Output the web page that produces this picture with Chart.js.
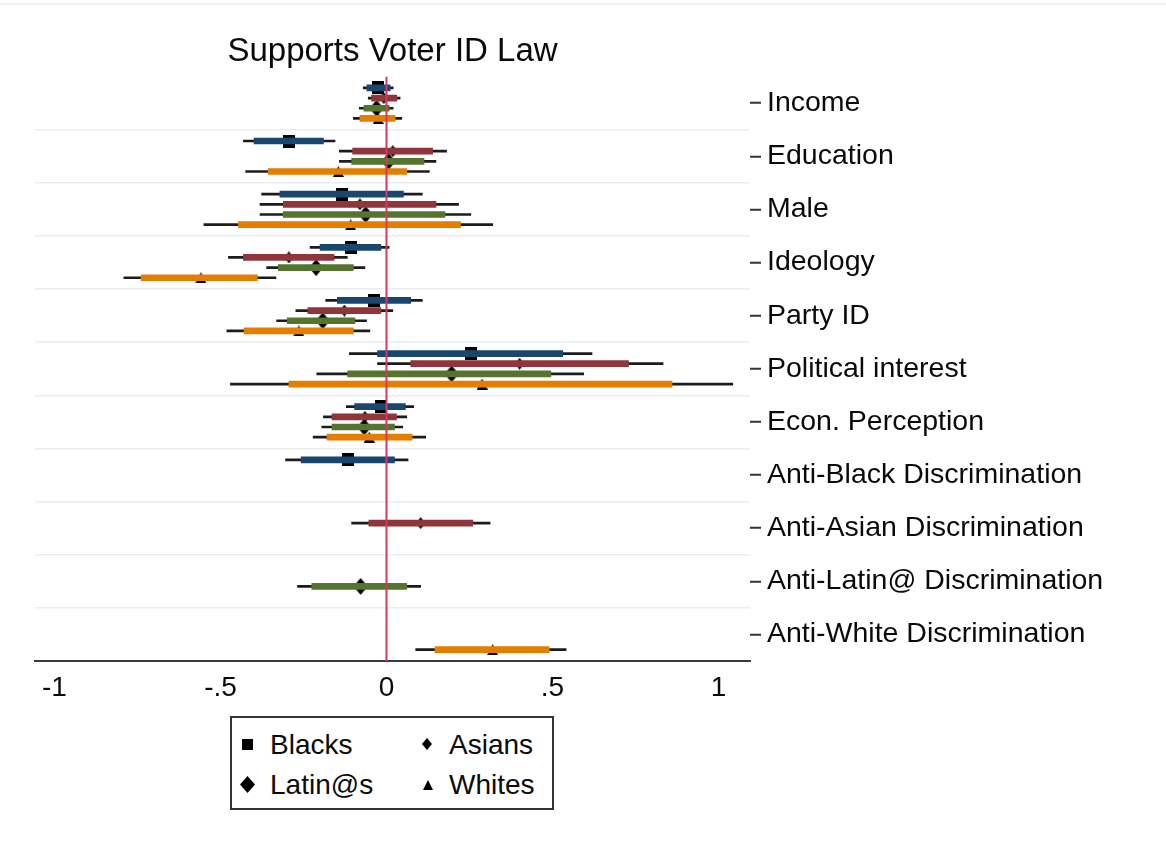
<!DOCTYPE html>
<html>
<head>
<meta charset="utf-8">
<title>Supports Voter ID Law</title>
<script src="https://cdn.jsdelivr.net/npm/chart.js@4/dist/chart.umd.min.js"></script>
<style>
  html, body { margin: 0; padding: 0; background: #fff; }
  #wrap { position: relative; width: 1166px; height: 847px; overflow: hidden;
          font-family: 'Liberation Sans', Arial, sans-serif; }
  #chart { display: block; position: absolute; left: 0; top: 0; }
  #topline { position: absolute; left: 0; top: 3px; width: 1166px; height: 2px; background: #edf1f4; }
  #legend { position: absolute; left: 230px; top: 716px; width: 320px; height: 90px;
            border: 2px solid #333; background: #fff; }
  #legend .txt { position: absolute; font-size: 28px; line-height: 32px; color: #0a0a0a; white-space: nowrap; }
  #legend .mk { position: absolute; background: #000; }
  .sq { width: 11px; height: 11px; }
  .dm { clip-path: polygon(50% 0, 100% 50%, 50% 100%, 0 50%); }
  .tr { clip-path: polygon(50% 0, 100% 100%, 0 100%); }
</style>
</head>
<body>
<div id="wrap">
  <div id="topline"></div>
  <canvas id="chart" width="1166" height="847"></canvas>
  <div id="legend">
    <div class="mk sq" style="left:10px;top:21px;"></div>
    <div class="txt" style="left:38px;top:11px;">Blacks</div>
    <div class="mk dm" style="left:190px;top:20px;width:10px;height:12px;"></div>
    <div class="txt" style="left:217px;top:11px;">Asians</div>
    <div class="mk dm" style="left:8px;top:58px;width:15px;height:17px;"></div>
    <div class="txt" style="left:38px;top:51px;">Latin@s</div>
    <div class="mk tr" style="left:191px;top:62px;width:10px;height:10px;"></div>
    <div class="txt" style="left:217px;top:51px;">Whites</div>
  </div>
</div>
<script>
// Coefficients (point estimates) with inner (thick) and outer (thin) confidence intervals
const categories = ['Income', 'Education', 'Male', 'Ideology', 'Party ID', 'Political interest',
  'Econ. Perception', 'Anti-Black Discrimination', 'Anti-Asian Discrimination',
  'Anti-Latin@ Discrimination', 'Anti-White Discrimination'];
const groupNames = ['Blacks', 'Asians', 'Latin@s', 'Whites'];
const xTicks = [-1, -0.5, 0, 0.5, 1];
const refValue = 0;

const blacksCoef = [-0.025, -0.293, -0.135, -0.108, -0.037, 0.256, -0.018, -0.115, null, null, null];
const blacksCI90 = [[-0.059, 0.011], [-0.399, -0.19], [-0.321, 0.051], [-0.2, -0.017], [-0.148, 0.073],
  [-0.027, 0.531], [-0.096, 0.057], [-0.257, 0.024], null, null, null];
const blacksCI95 = [[-0.07, 0.02], [-0.431, -0.155], [-0.376, 0.108], [-0.23, 0.008], [-0.183, 0.108],
  [-0.112, 0.619], [-0.121, 0.082], [-0.304, 0.065], null, null, null];

const asiansCoef = [-0.008, 0.019, -0.08, -0.294, -0.127, 0.401, -0.065, null, 0.103, null, null];
const asiansCI90 = [[-0.045, 0.031], [-0.102, 0.139], [-0.311, 0.149], [-0.431, -0.158], [-0.237, -0.017],
  [0.073, 0.729], [-0.164, 0.03], null, [-0.053, 0.26], null, null];
const asiansCI95 = [[-0.055, 0.041], [-0.142, 0.181], [-0.381, 0.217], [-0.476, -0.118], [-0.273, 0.019],
  [-0.027, 0.833], [-0.19, 0.061], null, [-0.105, 0.312], null, null];

const latinosCoef = [-0.03, 0.006, -0.063, -0.212, -0.192, 0.196, -0.067, null, null, -0.078, null];
const latinosCI90 = [[-0.068, 0.008], [-0.105, 0.113], [-0.311, 0.176], [-0.326, -0.1], [-0.299, -0.095],
  [-0.117, 0.495], [-0.164, 0.024], null, null, [-0.225, 0.061], null];
const latinosCI95 = [[-0.082, 0.02], [-0.142, 0.149], [-0.381, 0.254], [-0.361, -0.065], [-0.331, -0.06],
  [-0.21, 0.594], [-0.195, 0.049], null, null, [-0.268, 0.103], null];

const whitesCoef = [-0.025, -0.145, -0.108, -0.559, -0.264, 0.288, -0.052, null, null, null, 0.32];
const whitesCI90 = [[-0.08, 0.026], [-0.356, 0.061], [-0.446, 0.223], [-0.739, -0.389], [-0.429, -0.1],
  [-0.294, 0.86], [-0.179, 0.077], null, null, null, [0.146, 0.49]];
const whitesCI95 = [[-0.1, 0.046], [-0.424, 0.129], [-0.55, 0.32], [-0.791, -0.333], [-0.481, -0.05],
  [-0.47, 1.043], [-0.221, 0.118], null, null, null, [0.088, 0.541]];

// Marker glyphs drawn once into small canvases
function makeMarker(shape, w, h) {
  const c = document.createElement('canvas');
  c.width = w; c.height = h;
  const g = c.getContext('2d');
  g.fillStyle = '#000';
  g.beginPath();
  if (shape === 'square') {
    g.rect(0, 0, w, h);
  } else if (shape === 'diamond') {
    g.moveTo(w / 2, 0); g.lineTo(w, h / 2); g.lineTo(w / 2, h); g.lineTo(0, h / 2); g.closePath();
  } else {
    g.moveTo(w / 2, 0); g.lineTo(w, h); g.lineTo(0, h); g.closePath();
  }
  g.fill();
  return c;
}

const series = [
  { name: groupNames[0], coef: blacksCoef, inner: blacksCI90, outer: blacksCI95, color: '#1a476f', marker: makeMarker('square', 12, 13) },
  { name: groupNames[1], coef: asiansCoef, inner: asiansCI90, outer: asiansCI95, color: '#90353b', marker: makeMarker('diamond', 9, 12) },
  { name: groupNames[2], coef: latinosCoef, inner: latinosCI90, outer: latinosCI95, color: '#55752f', marker: makeMarker('diamond', 14, 17) },
  { name: groupNames[3], coef: whitesCoef, inner: whitesCI90, outer: whitesCI95, color: '#e37e00', marker: makeMarker('triangle', 11, 11) }
];
// vertical slot of each group inside a category band
const slotOffset = [-0.287, -0.096, 0.096, 0.287];

const datasets = [];
series.forEach((s, g) => {
  const pos = i => i + slotOffset[g];
  datasets.push({
    type: 'bar', label: s.name + ' outer', indexAxis: 'y', grouped: false,
    data: s.outer.map((r, i) => r ? { y: pos(i), x: r } : null).filter(Boolean),
    backgroundColor: '#1c1c1c', borderWidth: 0, barThickness: 2, order: 3
  });
  datasets.push({
    type: 'scatter', label: s.name,
    data: s.coef.map((c, i) => c === null ? null : { x: c, y: pos(i) }).filter(Boolean),
    pointStyle: s.marker, pointRadius: 6, order: 2
  });
  datasets.push({
    type: 'bar', label: s.name + ' inner', indexAxis: 'y', grouped: false,
    data: s.inner.map((r, i) => r ? { y: pos(i), x: r } : null).filter(Boolean),
    backgroundColor: s.color, borderWidth: 0, barThickness: 6, order: 1
  });
});
datasets.push({
  type: 'line', label: 'zero',
  data: [{ x: refValue, y: -0.5 }, { x: refValue, y: categories.length - 0.5 }],
  borderColor: '#d6385f', borderWidth: 2, pointRadius: 0, order: 0
});

const FONT = "'Liberation Sans', Arial, sans-serif";
const fmtX = v => v === 0 ? '0' : (v < 0 ? '-' : '') + String(Math.abs(v)).replace(/^0/, '');
const isInt = v => Math.abs(v - Math.round(v)) < 1e-9;

new Chart(document.getElementById('chart'), {
  type: 'scatter',
  data: { datasets },
  options: {
    responsive: false,
    devicePixelRatio: 1,
    animation: false,
    layout: { padding: { left: 35, right: 0, top: 0, bottom: 142 } },
    plugins: {
      legend: { display: false },
      tooltip: { enabled: false },
      title: {
        display: true, text: 'Supports Voter ID Law', fullSize: false,
        font: { family: FONT, size: 33, weight: 'normal' }, color: '#0a0a0a',
        padding: { top: 32, bottom: 5 }
      }
    },
    scales: {
      x: {
        type: 'linear', position: 'bottom', offset: false,
        min: -1.0587, max: 1.0949,
        afterBuildTicks: s => { s.ticks = xTicks.map(v => ({ value: v })); },
        afterFit: s => { s.height = 44; },
        ticks: { font: { family: FONT, size: 28 }, color: '#0a0a0a', padding: 10,
                 autoSkip: false, maxRotation: 0, callback: v => fmtX(v) },
        grid: { drawOnChartArea: false, drawTicks: false, offset: false },
        border: { display: true, color: '#3a3a3a', width: 2 }
      },
      y: {
        type: 'linear', position: 'right', reverse: true, offset: false,
        min: -0.5, max: categories.length - 0.5,
        afterBuildTicks: s => {
          const t = [];
          for (let k = 0; k <= (categories.length - 1) * 2; k++) t.push({ value: k / 2 });
          s.ticks = t;
        },
        afterFit: s => { s.width = 416; },
        ticks: { font: { family: FONT, size: 28.5 }, color: '#0a0a0a', padding: 6, autoSkip: false,
                 callback: v => isInt(v) ? categories[Math.round(v)] : '' },
        grid: {
          offset: false, drawOnChartArea: true, drawTicks: true, tickLength: 11,
          color: c => (c.tick && !isInt(c.tick.value)) ? '#e8eef2' : 'rgba(0,0,0,0)',
          lineWidth: 1.5,
          tickColor: c => (c.tick && isInt(c.tick.value)) ? '#333' : 'rgba(0,0,0,0)',
          tickWidth: 2
        },
        border: { display: false }
      }
    }
  }
});
</script>
</body>
</html>
